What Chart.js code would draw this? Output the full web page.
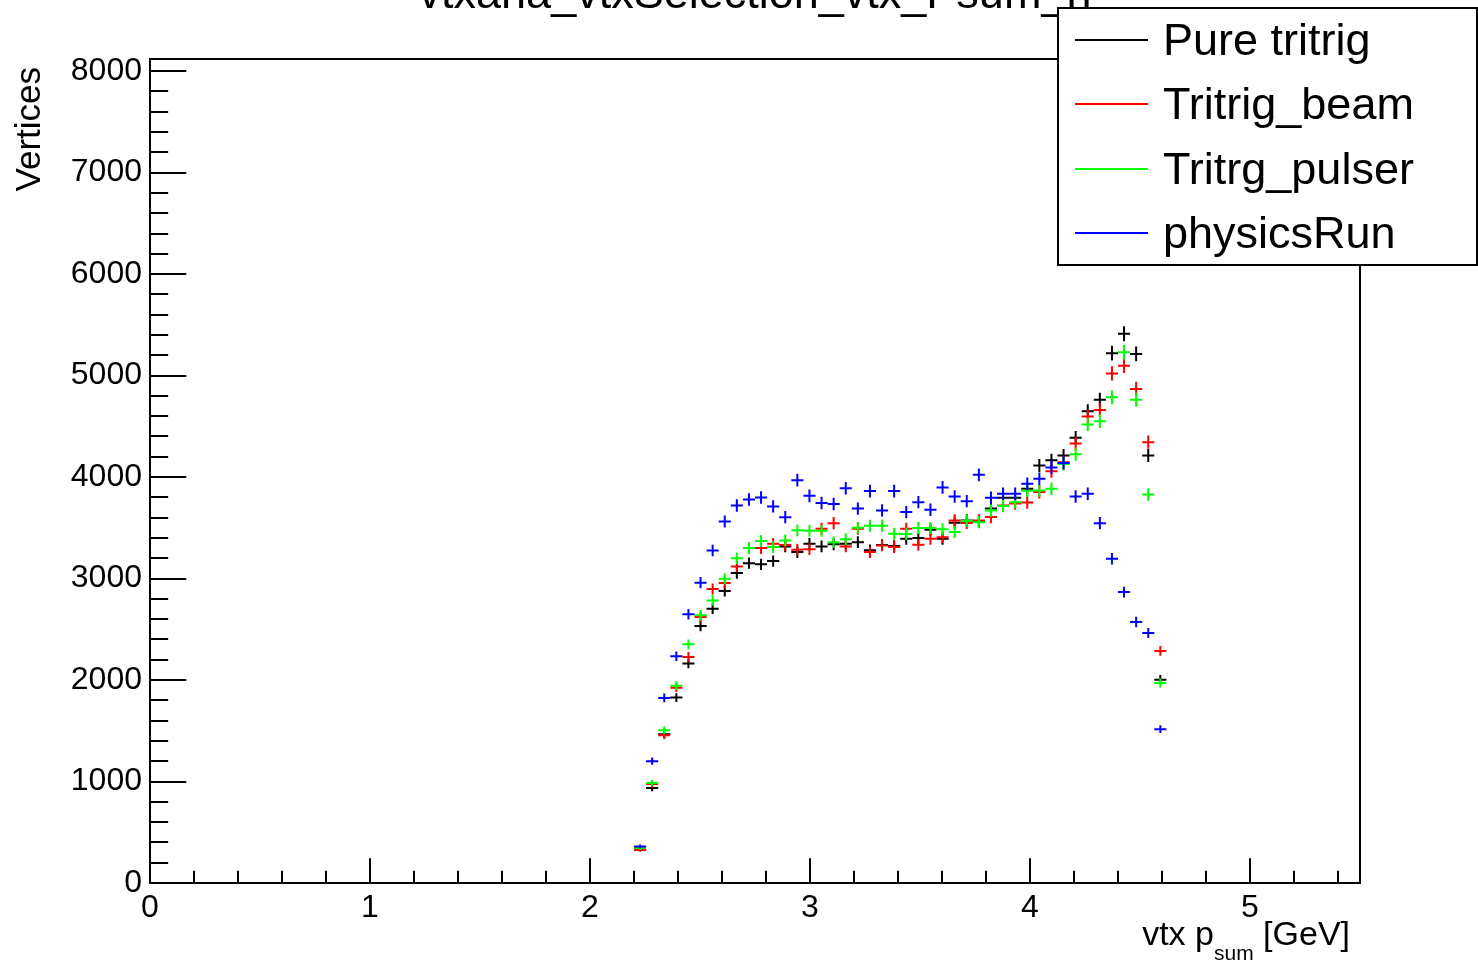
<!DOCTYPE html>
<html>
<head>
<meta charset="utf-8">
<script src="https://cdn.jsdelivr.net/npm/chart.js@4.4.0/dist/chart.umd.min.js"></script>
<style>
html, body { margin: 0; padding: 0; background: #fff; }
#wrap { width: 1478px; height: 964px; }
</style>
</head>
<body>
<div id="wrap"><canvas id="psumChart" width="1478" height="964"></canvas></div>
<script>
// histogram bin centres (GeV), bin width 0.055
const binCenters = [
    2.2275, 2.2825, 2.3375, 2.3925, 2.4475, 2.5025, 2.5575, 2.6125, 2.6675, 2.7225, 2.7775,
    2.8325, 2.8875, 2.9425, 2.9975, 3.0525, 3.1075, 3.1625, 3.2175, 3.2725, 3.3275, 3.3825,
    3.4375, 3.4925, 3.5475, 3.6025, 3.6575, 3.7125, 3.7675, 3.8225, 3.8775, 3.9325, 3.9875,
    4.0425, 4.0975, 4.1525, 4.2075, 4.2625, 4.3175, 4.3725, 4.4275, 4.4825, 4.5375, 4.5925
];
const binWidth = 0.055;

const pureTritrig = [
    335, 935, 1466, 1827, 2162, 2532, 2703, 2877, 3054, 3152, 3140,
    3172, 3317, 3261, 3343, 3317, 3337, 3343, 3359, 3278, 3330, 3320,
    3392, 3399, 3480, 3392, 3550, 3573, 3560, 3690, 3796, 3796, 3884,
    4114, 4165, 4213, 4387, 4649, 4761, 5221, 5413, 5214, 4213, 2004
];
const tritrigBeam = [
    325, 975, 1457, 1925, 2228, 2621, 2897, 2956, 3120, 3300, 3300,
    3343, 3330, 3284, 3290, 3491, 3546, 3317, 3490, 3261, 3327, 3310,
    3491, 3333, 3392, 3408, 3573, 3548, 3573, 3606, 3720, 3740, 3750,
    3852, 4058, 4146, 4330, 4596, 4662, 5022, 5098, 4869, 4344, 2287
];
const tritrgPulser = [
    345, 986, 1506, 1945, 2352, 2638, 2785, 2998, 3200, 3300, 3370,
    3310, 3376, 3475, 3470, 3470, 3359, 3388, 3500, 3520, 3520, 3442,
    3440, 3498, 3498, 3487, 3458, 3570, 3556, 3670, 3715, 3753, 3865,
    3868, 3884, 4130, 4225, 4518, 4551, 4787, 5230, 4761, 3829, 1971
];
const physicsRun = [
    360, 1201, 1824, 2234, 2648, 2960, 3277, 3563, 3720, 3780, 3800,
    3711, 3605, 3970, 3815, 3745, 3735, 3890, 3690, 3862, 3671, 3862,
    3655, 3753, 3678, 3898, 3809, 3763, 4022, 3796, 3835, 3835, 3934,
    3983, 4095, 4140, 3809, 3835, 3546, 3195, 2867, 2572, 2464, 1516
];

const seriesNames = ['Pure tritrig', 'Tritrig_beam', 'Tritrg_pulser', 'physicsRun'];
const seriesColors = ['#000000', '#ff0000', '#00ff00', '#0000ff'];
const seriesValues = [pureTritrig, tritrigBeam, tritrgPulser, physicsRun];

const xTickLabels = [0, 1, 2, 3, 4, 5];
const yTickLabels = [0, 1000, 2000, 3000, 4000, 5000, 6000, 7000, 8000];

const titleText = 'vtxana_vtxSelection_vtx_Psum_h';
const FONT = '"Liberation Sans", Arial, Helvetica, sans-serif';

// error bars like ROOT: horizontal = bin width, vertical = sqrt(N)
const errorBars = {
    id: 'errorBars',
    afterDatasetsDraw(chart) {
        const ctx = chart.ctx;
        const xs = chart.scales.x;
        const ys = chart.scales.y;
        ctx.save();
        ctx.lineWidth = 2;
        chart.data.datasets.forEach(ds => {
            ctx.strokeStyle = ds.borderColor;
            ds.data.forEach(p => {
                const cx = xs.getPixelForValue(p.x);
                const cy = ys.getPixelForValue(p.y);
                const x1 = xs.getPixelForValue(p.x - binWidth / 2);
                const x2 = xs.getPixelForValue(p.x + binWidth / 2);
                const err = Math.sqrt(p.y);
                const y1 = ys.getPixelForValue(p.y - err);
                const y2 = ys.getPixelForValue(p.y + err);
                ctx.beginPath();
                ctx.moveTo(x1, cy);
                ctx.lineTo(x2, cy);
                ctx.moveTo(cx, y1);
                ctx.lineTo(cx, y2);
                ctx.stroke();
            });
        });
        ctx.restore();
    }
};

// frame + inward ticks
const frameTicks = {
    id: 'frameTicks',
    afterDatasetsDraw(chart) {
        const ctx = chart.ctx;
        const a = chart.chartArea;
        const xs = chart.scales.x;
        const ys = chart.scales.y;
        ctx.save();
        ctx.strokeStyle = '#000';
        ctx.lineWidth = 2;
        ctx.strokeRect(a.left, a.top, a.right - a.left, a.bottom - a.top);

        const xMajor = (a.bottom - a.top) * 0.03;
        const yMajor = (a.right - a.left) * 0.03;
        ctx.beginPath();
        for (let i = 0; i <= 27; i++) {
            const v = i * 0.2;
            const px = Math.round(xs.getPixelForValue(v));
            const len = i % 5 === 0 ? xMajor : xMajor / 2;
            ctx.moveTo(px, a.bottom);
            ctx.lineTo(px, a.bottom - len);
        }
        for (let i = 0; i <= 40; i++) {
            const v = i * 200;
            const py = Math.round(ys.getPixelForValue(v));
            const len = i % 5 === 0 ? yMajor : yMajor / 2;
            ctx.moveTo(a.left, py);
            ctx.lineTo(a.left + len, py);
        }
        ctx.stroke();
        ctx.restore();
    }
};

const titlesAndLegend = {
    id: 'titlesAndLegend',
    afterDraw(chart) {
        const ctx = chart.ctx;
        const a = chart.chartArea;
        ctx.save();
        ctx.fillStyle = '#000';

        // histogram title, cut by the top of the canvas
        ctx.font = '45px ' + FONT;
        ctx.textAlign = 'center';
        ctx.textBaseline = 'alphabetic';
        ctx.fillText(titleText, (a.left + a.right) / 2, 8);

        // y axis title
        ctx.save();
        ctx.translate(40, 67);
        ctx.rotate(-Math.PI / 2);
        ctx.font = '35px ' + FONT;
        ctx.textAlign = 'right';
        ctx.fillText('Vertices', 0, 0);
        ctx.restore();

        // x axis title with subscript
        ctx.textAlign = 'left';
        ctx.font = '34px ' + FONT;
        const part1 = 'vtx p';
        const sub = 'sum';
        const part2 = ' [GeV]';
        const w1 = ctx.measureText(part1).width;
        const w3 = ctx.measureText(part2).width;
        ctx.font = '21px ' + FONT;
        const w2 = ctx.measureText(sub).width;
        const right = 1350;
        const x0 = right - w1 - w2 - w3;
        ctx.font = '34px ' + FONT;
        ctx.fillText(part1, x0, 945);
        ctx.fillText(part2, x0 + w1 + w2, 945);
        ctx.font = '21px ' + FONT;
        ctx.fillText(sub, x0 + w1, 960);

        // legend box
        const lx = 1058, ly = 8, lw = 419, lh = 257;
        ctx.fillStyle = '#fff';
        ctx.fillRect(lx, ly, lw, lh);
        ctx.strokeStyle = '#000';
        ctx.lineWidth = 2;
        ctx.strokeRect(lx, ly, lw, lh);
        const rowH = lh / seriesNames.length;
        ctx.font = '45px ' + FONT;
        ctx.textBaseline = 'alphabetic';
        seriesNames.forEach((name, i) => {
            const cy = ly + rowH * (i + 0.5);
            ctx.strokeStyle = seriesColors[i];
            ctx.beginPath();
            ctx.moveTo(1075, Math.round(cy));
            ctx.lineTo(1148, Math.round(cy));
            ctx.stroke();
            ctx.fillStyle = '#000';
            ctx.fillText(name, 1163, cy + 15);
        });
        ctx.restore();
    }
};

const datasets = seriesValues.map((vals, i) => ({
    label: seriesNames[i],
    data: binCenters.map((x, j) => ({ x: x, y: vals[j] })),
    borderColor: seriesColors[i],
    backgroundColor: seriesColors[i],
    pointRadius: 0,
    showLine: false
}));

new Chart(document.getElementById('psumChart'), {
    type: 'scatter',
    data: { datasets: datasets },
    options: {
        responsive: false,
        animation: false,
        devicePixelRatio: 1,
        layout: { padding: { top: 59, right: 118, left: 0, bottom: 0 } },
        plugins: {
            legend: { display: false },
            tooltip: { enabled: false }
        },
        scales: {
            x: {
                type: 'linear',
                min: 0,
                max: 5.5,
                grid: { display: false, drawTicks: false },
                border: { display: false },
                afterBuildTicks: s => { s.ticks = xTickLabels.map(v => ({ value: v })); },
                afterFit: s => { s.height = 81; },
                ticks: {
                    color: '#000',
                    font: { family: FONT, size: 32 },
                    padding: 6,
                    maxRotation: 0,
                    autoSkip: false,
                    callback: v => String(v)
                }
            },
            y: {
                type: 'linear',
                min: 0,
                max: 8120,
                grid: { display: false, drawTicks: false },
                border: { display: false },
                afterBuildTicks: s => { s.ticks = yTickLabels.map(v => ({ value: v })); },
                afterFit: s => { s.width = 150; },
                ticks: {
                    color: '#000',
                    font: { family: FONT, size: 32 },
                    padding: 8,
                    autoSkip: false,
                    callback: v => String(v)
                }
            }
        }
    },
    plugins: [errorBars, frameTicks, titlesAndLegend]
});
</script>
</body>
</html>
